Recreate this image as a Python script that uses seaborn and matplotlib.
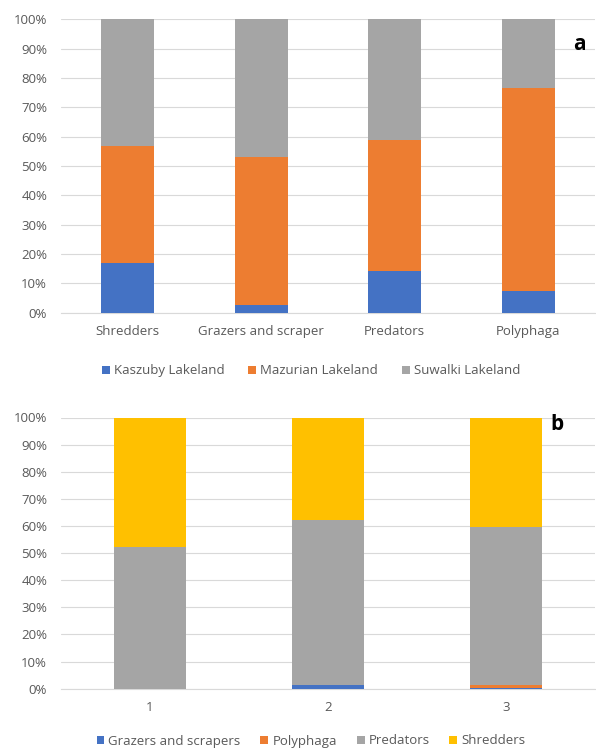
import numpy as np
import pandas as pd
import matplotlib
matplotlib.use("Agg")
import matplotlib.pyplot as plt
import seaborn as sns
from matplotlib.patches import Patch
from matplotlib.ticker import PercentFormatter

sns.set_theme(style="white")
plt.rcParams['font.family'] = ['Open Sans', 'DejaVu Sans']

# ---- data panel a ----
a_cats = ["Shredders", "Grazers and scraper", "Predators", "Polyphaga"]
kaszuby = [17.0, 2.4, 14.1, 7.5]
mazurian = [39.9, 50.6, 44.8, 69.2]
suwalki = [43.1, 47.0, 41.1, 23.3]
a_series = ["Kaszuby Lakeland", "Mazurian Lakeland", "Suwalki Lakeland"]

# ---- data panel b ----
b_cats = ["1", "2", "3"]
grazers = [0.0, 1.3, 0.4]
polyphaga = [0.0, 0.0, 0.9]
predators = [52.4, 60.8, 58.4]
shredders = [47.6, 37.9, 40.3]
b_series = ["Grazers and scrapers", "Polyphaga", "Predators", "Shredders"]

BLUE, ORANGE, GRAY, YELLOW = "#4472C4", "#ED7D31", "#A5A5A5", "#FFC000"
TXT = "#595959"
GRID = "#D9D9D9"
FS = 9.5

fig = plt.figure(figsize=(5.96, 7.5), dpi=100)
ax_a = fig.add_axes([61 / 596, 1 - 312.5 / 750, 534 / 596, 293.2 / 750])
ax_b = fig.add_axes([61 / 596, 1 - 688.7 / 750, 534 / 596, 271.2 / 750])


def stacked(ax, cats, layers, colors, names):
    cum = np.cumsum(np.array(layers), axis=0)
    # draw from top of stack down so lower layers overlay upper ones
    for i in range(len(layers) - 1, -1, -1):
        df = pd.DataFrame({"cat": cats, "val": cum[i]})
        sns.barplot(data=df, x="cat", y="val", color=colors[i], width=0.4,
                    saturation=1, ax=ax, zorder=3, linewidth=0, edgecolor="none")
    ax.set_ylim(0, 100)
    ax.set_xlim(-0.5, len(cats) - 0.5)
    ax.set_yticks(np.arange(0, 101, 10))
    ax.yaxis.set_major_formatter(PercentFormatter(decimals=0))
    ax.grid(axis="y", color=GRID, linewidth=0.8, zorder=0)
    ax.set_axisbelow(True)
    for s in ["top", "right", "left"]:
        ax.spines[s].set_visible(False)
    ax.spines["bottom"].set_color(GRID)
    ax.spines["bottom"].set_linewidth(0.8)
    ax.set_xlabel("")
    ax.set_ylabel("")
    ax.tick_params(axis="both", length=0, labelsize=FS, labelcolor=TXT)
    ax.tick_params(axis="y", pad=10)
    ax.tick_params(axis="x", pad=9)
    handles = [Patch(facecolor=c, edgecolor="none", label=n) for c, n in zip(colors, names)]
    return handles


h_a = stacked(ax_a, a_cats, [kaszuby, mazurian, suwalki], [BLUE, ORANGE, GRAY], a_series)
leg = ax_a.legend(handles=h_a, loc="center", bbox_to_anchor=(311 / 596, 1 - 371 / 750),
                  bbox_transform=fig.transFigure, ncol=3, frameon=False, fontsize=FS,
                  handlelength=0.6, handleheight=0.6, handletextpad=0.3, columnspacing=1.8)
for t in leg.get_texts():
    t.set_color(TXT)
fig.text(579 / 596, 1 - 45 / 750, "a", fontsize=15, fontweight="bold", ha="center", va="center",
         color="black")

h_b = stacked(ax_b, b_cats, [grazers, polyphaga, predators, shredders],
              [BLUE, ORANGE, GRAY, YELLOW], b_series)
leg = ax_b.legend(handles=h_b, loc="center", bbox_to_anchor=(311 / 596, 1 - 741 / 750),
                  bbox_transform=fig.transFigure, ncol=4, frameon=False, fontsize=FS,
                  handlelength=0.6, handleheight=0.6, handletextpad=0.3, columnspacing=1.5)
for t in leg.get_texts():
    t.set_color(TXT)
fig.text(557 / 596, 1 - 425 / 750, "b", fontsize=15, fontweight="bold", ha="center", va="center",
         color="black")

fig.savefig("out.png", dpi=100)
